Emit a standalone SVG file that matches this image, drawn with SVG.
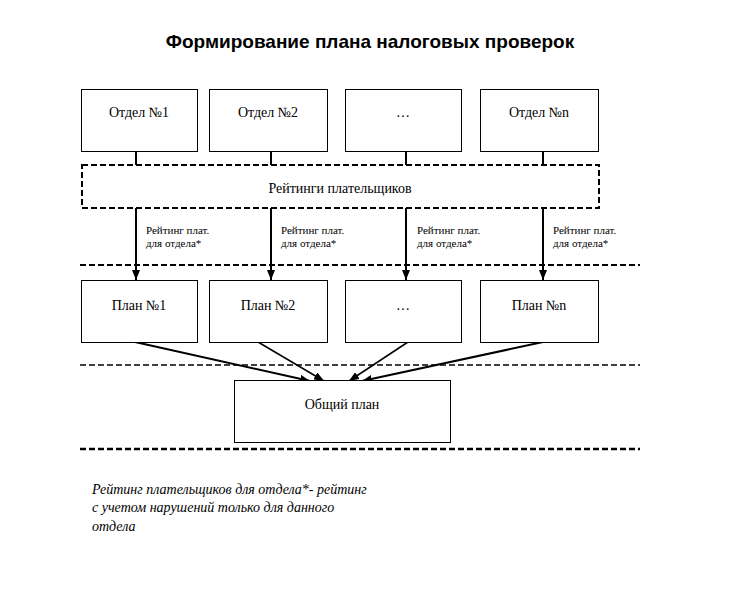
<svg xmlns="http://www.w3.org/2000/svg" width="754" height="615" viewBox="0 0 754 615">
<defs>
<marker id="ah" markerWidth="10" markerHeight="8" refX="10" refY="4" orient="auto" markerUnits="userSpaceOnUse">
<path d="M0,0 L10,4 L0,8 Z" fill="#000"/>
</marker>
<style>
.box{fill:#fff;stroke:#000;stroke-width:1}
.t{font-family:"Liberation Serif","DejaVu Serif",serif;font-size:14px;fill:#000;text-anchor:middle}
.s{font-family:"Liberation Serif","DejaVu Serif",serif;font-size:11px;fill:#000}
.dash{fill:none;stroke:#000;stroke-dasharray:6,3}
.ln{stroke:#000;fill:none}
.fn{font-family:"Liberation Serif","DejaVu Serif",serif;font-style:italic;font-size:14px;fill:#000}
</style>
</defs>
<rect width="754" height="615" fill="#fff"/>
<text x="370" y="48" font-family="Liberation Sans, Arial, sans-serif" font-weight="bold" font-size="19" text-anchor="middle">Формирование плана налоговых проверок</text>

<g id="dashlines">
<line class="dash" x1="80" y1="265" x2="640" y2="265" stroke-width="2"/>
<line class="dash" x1="80" y1="365" x2="640" y2="365" stroke-width="1.5"/>
<line class="dash" x1="80" y1="449" x2="640" y2="449" stroke-width="2.5"/>
</g>

<g id="connectors">
<line class="ln" stroke-width="2" x1="136" y1="151" x2="136" y2="165"/>
<line class="ln" stroke-width="2" x1="271" y1="151" x2="271" y2="165"/>
<line class="ln" stroke-width="2" x1="406" y1="151" x2="406" y2="165"/>
<line class="ln" stroke-width="2" x1="543" y1="151" x2="543" y2="165"/>
<line class="ln" stroke-width="2" x1="136" y1="208" x2="136" y2="280" marker-end="url(#ah)"/>
<line class="ln" stroke-width="2" x1="271" y1="208" x2="271" y2="280" marker-end="url(#ah)"/>
<line class="ln" stroke-width="2" x1="406" y1="208" x2="406" y2="280" marker-end="url(#ah)"/>
<line class="ln" stroke-width="2" x1="543" y1="208" x2="543" y2="280" marker-end="url(#ah)"/>
<line class="ln" stroke-width="2" x1="135" y1="342" x2="310" y2="381" marker-end="url(#ah)"/>
<line class="ln" stroke-width="1.5" x1="258" y1="342" x2="324" y2="381" marker-end="url(#ah)"/>
<line class="ln" stroke-width="1.5" x1="408" y1="342" x2="349" y2="381" marker-end="url(#ah)"/>
<line class="ln" stroke-width="2" x1="543" y1="342" x2="362" y2="381" marker-end="url(#ah)"/>
</g>

<g id="labels">
<text class="s" x="146" y="234">Рейтинг плат.</text>
<text class="s" x="146" y="247">для отдела*</text>
<text class="s" x="281" y="234">Рейтинг плат.</text>
<text class="s" x="281" y="247">для отдела*</text>
<text class="s" x="417" y="234">Рейтинг плат.</text>
<text class="s" x="417" y="247">для отдела*</text>
<text class="s" x="553" y="234">Рейтинг плат.</text>
<text class="s" x="553" y="247">для отдела*</text>
</g>

<g id="otdel1"><rect class="box" x="81.5" y="89.5" width="116" height="62"/><text class="t" x="139" y="117">Отдел №1</text></g>
<g id="otdel2"><rect class="box" x="209.5" y="89.5" width="118" height="62"/><text class="t" x="268" y="117">Отдел №2</text></g>
<g id="otdel3"><rect class="box" x="345.5" y="89.5" width="116" height="62"/><text class="t" x="403" y="117">…</text></g>
<g id="otdeln"><rect class="box" x="480.5" y="89.5" width="118" height="62"/><text class="t" x="539" y="117">Отдел №n</text></g>

<g id="reitingi"><rect x="82" y="165" width="517" height="43" fill="#fff" stroke="#000" stroke-width="2" stroke-dasharray="6,3"/><text class="t" x="340" y="193">Рейтинги плательщиков</text></g>

<g id="plan1"><rect class="box" x="81.5" y="280.5" width="116" height="62"/><text class="t" x="139" y="310">План №1</text></g>
<g id="plan2"><rect class="box" x="209.5" y="280.5" width="118" height="62"/><text class="t" x="268" y="310">План №2</text></g>
<g id="plan3"><rect class="box" x="345.5" y="280.5" width="116" height="62"/><text class="t" x="403" y="310">…</text></g>
<g id="plann"><rect class="box" x="480.5" y="280.5" width="118" height="62"/><text class="t" x="539" y="310">План №n</text></g>

<g id="obshiy"><rect class="box" x="234.5" y="380.5" width="216" height="62"/><text class="t" x="342" y="409">Общий план</text></g>

<g id="footnote">
<text class="fn" x="92" y="494">Рейтинг плательщиков для отдела*- рейтинг</text>
<text class="fn" x="92" y="512">с учетом нарушений только для данного</text>
<text class="fn" x="92" y="531">отдела</text>
</g>
</svg>
